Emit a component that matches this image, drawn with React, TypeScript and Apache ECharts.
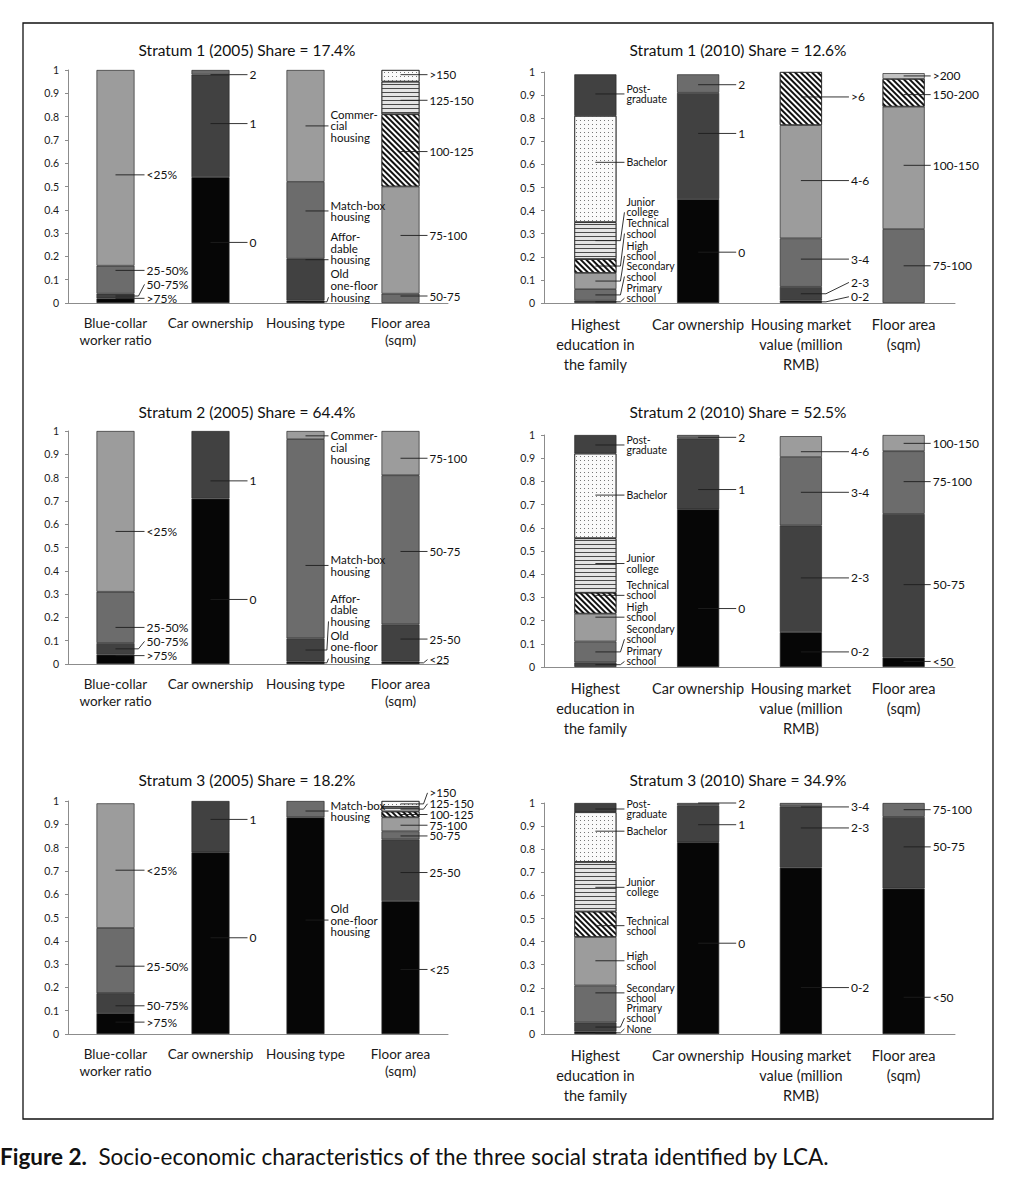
import React, { useEffect, useRef } from 'react';
import * as echarts from 'echarts';

const FONT = 'Lato, "Open Sans", sans-serif';

const cats2005 = ['Blue-collar\nworker ratio', 'Car ownership', 'Housing type', 'Floor area\n(sqm)'];
const cats2010 = ['Highest\neducation in\nthe family', 'Car ownership', 'Housing market\nvalue (million\nRMB)', 'Floor area\n(sqm)'];

const titles = [
  'Stratum 1 (2005) Share = 17.4%',
  'Stratum 1 (2010) Share = 12.6%',
  'Stratum 2 (2005) Share = 64.4%',
  'Stratum 2 (2010) Share = 52.5%',
  'Stratum 3 (2005) Share = 18.2%',
  'Stratum 3 (2010) Share = 34.9%',
];

const caption = 'Socio-economic characteristics of the three social strata identified by LCA.';

// segment names / shares, listed bottom to top for each of the four bars
const s1y05Names = [
  ['>75%', '50-75%', '25-50%', '<25%'],
  ['0', '1', '2'],
  ['Old\none-floor\nhousing', 'Affor-\ndable\nhousing', 'Match-box\nhousing', 'Commer-\ncial\nhousing'],
  ['50-75', '75-100', '100-125', '125-150', '>150'],
];
const s1y05Values = [
  [0.02, 0.02, 0.12, 0.84],
  [0.54, 0.44, 0.02],
  [0.01, 0.18, 0.33, 0.48],
  [0.04, 0.46, 0.31, 0.14, 0.05],
];

const s1y10Names = [
  ['Primary\nschool', 'Secondary\nschool', 'High\nschool', 'Technical\nschool', 'Junior\ncollege', 'Bachelor', 'Post-\ngraduate'],
  ['0', '1', '2'],
  ['0-2', '2-3', '3-4', '4-6', '>6'],
  ['75-100', '100-150', '150-200', '>200'],
];
const s1y10Values = [
  [0.01, 0.05, 0.07, 0.06, 0.16, 0.46, 0.18],
  [0.45, 0.46, 0.08],
  [0.01, 0.06, 0.21, 0.49, 0.23],
  [0.32, 0.53, 0.12, 0.025],
];

const s2y05Names = [
  ['>75%', '50-75%', '25-50%', '<25%'],
  ['0', '1'],
  ['Old\none-floor\nhousing', 'Affor-\ndable\nhousing', 'Match-box\nhousing', 'Commer-\ncial\nhousing'],
  ['<25', '25-50', '50-75', '75-100'],
];
const s2y05Values = [
  [0.04, 0.05, 0.22, 0.69],
  [0.71, 0.29],
  [0.01, 0.1, 0.855, 0.035],
  [0.01, 0.16, 0.64, 0.19],
];

const s2y10Names = [
  ['Primary\nschool', 'Secondary\nschool', 'High\nschool', 'Technical\nschool', 'Junior\ncollege', 'Bachelor', 'Post-\ngraduate'],
  ['0', '1', '2'],
  ['0-2', '2-3', '3-4', '4-6'],
  ['<50', '50-75', '75-100', '100-150'],
];
const s2y10Values = [
  [0.02, 0.09, 0.12, 0.09, 0.235, 0.365, 0.08],
  [0.68, 0.305, 0.015],
  [0.15, 0.46, 0.295, 0.09],
  [0.04, 0.62, 0.27, 0.07],
];

const s3y05Names = [
  ['>75%', '50-75%', '25-50%', '<25%'],
  ['0', '1'],
  ['Old\none-floor\nhousing', 'Match-box\nhousing'],
  ['<25', '25-50', '50-75', '75-100', '100-125', '125-150', '>150'],
];
const s3y05Values = [
  [0.09, 0.085, 0.28, 0.535],
  [0.78, 0.22],
  [0.93, 0.07],
  [0.57, 0.265, 0.035, 0.06, 0.025, 0.02, 0.025],
];

const s3y10Names = [
  ['None', 'Primary\nschool', 'Secondary\nschool', 'High\nschool', 'Technical\nschool', 'Junior\ncollege', 'Bachelor', 'Post-\ngraduate'],
  ['0', '1', '2'],
  ['0-2', '2-3', '3-4'],
  ['<50', '50-75', '75-100'],
];
const s3y10Values = [
  [0.01, 0.04, 0.16, 0.21, 0.11, 0.215, 0.215, 0.04],
  [0.83, 0.16, 0.01],
  [0.72, 0.265, 0.015],
  [0.63, 0.31, 0.06],
];

// where each segment label sits (y in axis units), same order as the names
const s1y05LabelAt = [[0.02, 0.08, 0.14, 0.55], [0.26, 0.77, 0.98], [0.075, 0.236, 0.395, 0.76], [0.03, 0.29, 0.65, 0.87, 0.98]];
const s1y10LabelAt = [[0.043, 0.137, 0.226, 0.323, 0.415, 0.609, 0.905], [0.22, 0.734, 0.945], [0.027, 0.089, 0.19, 0.53, 0.892], [0.161, 0.596, 0.902, 0.983]];
const s2y05LabelAt = [[0.036, 0.097, 0.157, 0.569], [0.277, 0.786], [0.073, 0.233, 0.423, 0.929], [0.019, 0.107, 0.483, 0.883]];
const s2y10LabelAt = [[0.046, 0.142, 0.237, 0.331, 0.446, 0.741, 0.957], [0.252, 0.765, 0.99], [0.065, 0.384, 0.753, 0.928], [0.024, 0.355, 0.799, 0.964]];
const s3y05LabelAt = [[0.051, 0.121, 0.291, 0.703], [0.413, 0.921], [0.489, 0.957], [0.277, 0.693, 0.85, 0.896, 0.942, 0.988, 1.035]];
const s3y10LabelAt = [[0.022, 0.091, 0.178, 0.317, 0.469, 0.635, 0.878, 0.974], [0.393, 0.906, 1.0], [0.201, 0.892, 0.983], [0.159, 0.81, 0.971]];

const FILLS: Record<string, any> = {
  black: { color: '#060606' },
  dark: { color: '#414141' },
  mid: { color: '#6c6c6c' },
  light: { color: '#9c9c9c' },
  lighter: { color: '#c2c2c2' },
  hatch: {
    color: '#ffffff',
    decal: { symbol: 'rect', symbolSize: 1, color: '#111', backgroundColor: '#ffffff', dashArrayX: [1, 0], dashArrayY: [1.3, 1.5], rotation: Math.PI / 4 },
  },
  stripes: {
    color: '#e4e4e4',
    decal: { symbol: 'rect', symbolSize: 1, color: '#4a4a4a', backgroundColor: '#e4e4e4', dashArrayX: [1, 0], dashArrayY: [1, 2.4], rotation: 0 },
  },
  dots: {
    color: '#fafafa',
    decal: { symbol: 'rect', symbolSize: 1, color: '#777', backgroundColor: '#fafafa', dashArrayX: [1, 3], dashArrayY: [1, 3], rotation: 0 },
  },
};

const FILL_BY_TYPE: Record<string, Record<string, string>> = {
  blue: { '>75%': 'black', '50-75%': 'dark', '25-50%': 'mid', '<25%': 'light' },
  car: { '0': 'black', '1': 'dark', '2': 'mid' },
  housing: {
    'Old\none-floor\nhousing': 'black',
    'Affor-\ndable\nhousing': 'dark',
    'Match-box\nhousing': 'mid',
    'Commer-\ncial\nhousing': 'light',
  },
  floor05: { '<25': 'black', '25-50': 'dark', '50-75': 'mid', '75-100': 'light', '100-125': 'hatch', '125-150': 'stripes', '>150': 'dots' },
  edu: {
    None: 'black',
    'Primary\nschool': 'dark',
    'Secondary\nschool': 'mid',
    'High\nschool': 'light',
    'Technical\nschool': 'hatch',
    'Junior\ncollege': 'stripes',
    Bachelor: 'dots',
    'Post-\ngraduate': 'dark',
  },
  market: { '0-2': 'black', '2-3': 'dark', '3-4': 'mid', '4-6': 'light', '>6': 'hatch' },
  floor10: { '<50': 'black', '50-75': 'dark', '75-100': 'mid', '100-150': 'light', '150-200': 'hatch', '>200': 'lighter' },
};

// layout of the two columns
const COLS = [
  {
    left: 68, width: 380, titleX: 247, barFrac: 0.4, types: ['blue', 'car', 'housing', 'floor05'],
    gaps: [12, 20, 6, 10], fontSizes: [12, 12, 11.5, 11.5], lineHeights: [12, 12, 11.7, 11],
    catFont: 13.5, catLine: 17.5,
  },
  {
    left: 544, width: 411, titleX: 738, barFrac: 0.41, types: ['edu', 'car', 'market', 'floor10'],
    gaps: [10, 19, 29, 8], fontSizes: [10.5, 12, 12, 12], lineHeights: [10.3, 12, 12, 12],
    catFont: 14.5, catLine: 20,
  },
];
const ROWS = [
  { top: [70, 72], height: [233, 231], titleY: 50 },
  { top: [431, 435], height: [233, 232], titleY: 412 },
  { top: [801, 803], height: [233, 231], titleY: 780 },
];

const panels = [
  { names: s1y05Names, values: s1y05Values, labelAt: s1y05LabelAt, cats: cats2005 },
  { names: s1y10Names, values: s1y10Values, labelAt: s1y10LabelAt, cats: cats2010 },
  { names: s2y05Names, values: s2y05Values, labelAt: s2y05LabelAt, cats: cats2005 },
  { names: s2y10Names, values: s2y10Values, labelAt: s2y10LabelAt, cats: cats2010 },
  { names: s3y05Names, values: s3y05Values, labelAt: s3y05LabelAt, cats: cats2005 },
  { names: s3y10Names, values: s3y10Values, labelAt: s3y10LabelAt, cats: cats2010 },
];

const AXIS_COLOR = '#8c8c8c';

function buildOption() {
  const grids: any[] = [];
  const xAxes: any[] = [];
  const yAxes: any[] = [];
  const series: any[] = [];
  const graphics: any[] = [];

  graphics.push({
    type: 'rect',
    shape: { x: 23, y: 23, width: 970, height: 1096 },
    style: { fill: 'none', stroke: '#111', lineWidth: 1.3 },
  });

  panels.forEach((p, g) => {
    const col = COLS[g % 2];
    const row = ROWS[Math.floor(g / 2)];
    const c = g % 2;

    grids.push({ left: col.left, top: row.top[c], width: col.width, height: row.height[c] });

    xAxes.push({
      type: 'category',
      gridIndex: g,
      data: p.cats,
      axisLine: { lineStyle: { color: AXIS_COLOR, width: 1 } },
      axisTick: { show: false },
      axisLabel: {
        interval: 0,
        color: '#1a1a1a',
        fontSize: col.catFont,
        lineHeight: col.catLine,
        fontFamily: FONT,
        margin: 11,
      },
    });

    yAxes.push({
      type: 'value',
      gridIndex: g,
      min: 0,
      max: 1,
      interval: 0.1,
      splitLine: { show: false },
      axisLine: { show: true, lineStyle: { color: AXIS_COLOR, width: 1 } },
      axisTick: { show: true, length: 3, lineStyle: { color: AXIS_COLOR } },
      axisLabel: {
        color: '#1a1a1a',
        fontSize: 10.5,
        fontFamily: FONT,
        margin: 9,
        formatter: (v: number) => String(Math.round(v * 10) / 10),
      },
    });

    graphics.push({
      type: 'text',
      x: col.titleX,
      y: row.titleY,
      style: {
        text: titles[g],
        fill: '#111',
        fontSize: 15.5,
        fontFamily: FONT,
        align: 'center',
        verticalAlign: 'middle',
      },
    });

    const items: { value: number[]; text: string }[] = [];

    p.values.forEach((vals, b) => {
      let cum = 0;
      vals.forEach((v, s) => {
        const name = p.names[b][s];
        const fill = FILLS[FILL_BY_TYPE[col.types[b]][name]];
        series.push({
          type: 'bar',
          name,
          xAxisIndex: g,
          yAxisIndex: g,
          stack: 'panel' + g,
          barWidth: col.barFrac * 100 + '%',
          silent: true,
          data: [0, 1, 2, 3].map((i) => (i === b ? v : '-')),
          itemStyle: {
            color: fill.color,
            decal: fill.decal,
            borderColor: '#2b2b2b',
            borderWidth: 0.7,
          },
        });
        items.push({ value: [b, cum, cum + v, p.labelAt[b][s]], text: name });
        cum += v;
      });
    });

    series.push({
      type: 'custom',
      xAxisIndex: g,
      yAxisIndex: g,
      z: 10,
      silent: true,
      data: items.map((it) => it.value),
      renderItem: (params: any, api: any) => {
        const it = items[params.dataIndex];
        const b = it.value[0];
        const lo = api.coord([b, it.value[1]]);
        const hi = api.coord([b, it.value[2]]);
        const at = api.coord([b, it.value[3]]);
        const cx = lo[0];
        const mid = (lo[1] + hi[1]) / 2;
        const inSeg = (y: number) => y <= lo[1] + 0.5 && y >= hi[1] - 0.5;
        const bw = api.size([1, 0])[0] * col.barFrac;
        const right = cx + bw / 2;
        const gap = col.gaps[b];
        const tx = right + gap;
        const lh = col.lineHeights[b];
        const n = it.text.split('\n').length;

        // leader: flat when the label sits over its segment, bent otherwise
        let ey = at[1];
        let sy = at[1];
        if (!inSeg(at[1])) {
          let best = Infinity;
          for (let i = 0; i < n; i++) {
            const ly = at[1] + (i - (n - 1) / 2) * lh;
            if (Math.abs(ly - mid) < best) {
              best = Math.abs(ly - mid);
              ey = ly;
            }
          }
          sy = inSeg(ey) ? ey : mid;
        }
        const ex = right + Math.min(4, gap * 0.4);
        const points = sy === ey ? [[cx, sy], [tx - 2, ey]] : [[cx, sy], [ex, sy], [tx - 2, ey]];
        return {
          type: 'group',
          children: [
            {
              type: 'polyline',
              shape: { points },
              style: { stroke: '#1e1e1e', lineWidth: 0.9, fill: 'none' },
            },
            {
              type: 'text',
              x: tx,
              y: at[1],
              style: {
                text: it.text,
                fill: '#111',
                fontSize: col.fontSizes[b],
                fontFamily: FONT,
                lineHeight: lh,
                align: 'left',
                verticalAlign: 'middle',
              },
            },
          ],
        };
      },
    });
  });

  graphics.push({
    type: 'text',
    x: 0,
    y: 1156,
    style: {
      text: '{b|Figure 2.}  ' + caption,
      fill: '#111',
      fontSize: 22.5,
      fontFamily: FONT,
      verticalAlign: 'middle',
      rich: {
        b: { fontSize: 22.5, fontFamily: FONT, fontWeight: 'bold', fill: '#111' },
      },
    },
  });

  return {
    animation: false,
    backgroundColor: '#ffffff',
    grid: grids,
    xAxis: xAxes,
    yAxis: yAxes,
    series,
    graphic: graphics,
  };
}

const App = () => {
  const chartRef = useRef<HTMLDivElement>(null);

  useEffect(() => {
    if (!chartRef.current) return;
    const chart = echarts.init(chartRef.current, undefined, { renderer: 'svg' });
    chart.setOption(buildOption());
    return () => {
      chart.dispose();
    };
  }, []);

  return (
    <div
      ref={chartRef}
      style={{ position: 'absolute', left: 0, top: 0, width: 1014, height: 1202, background: '#fff' }}
    />
  );
};

export default App;
